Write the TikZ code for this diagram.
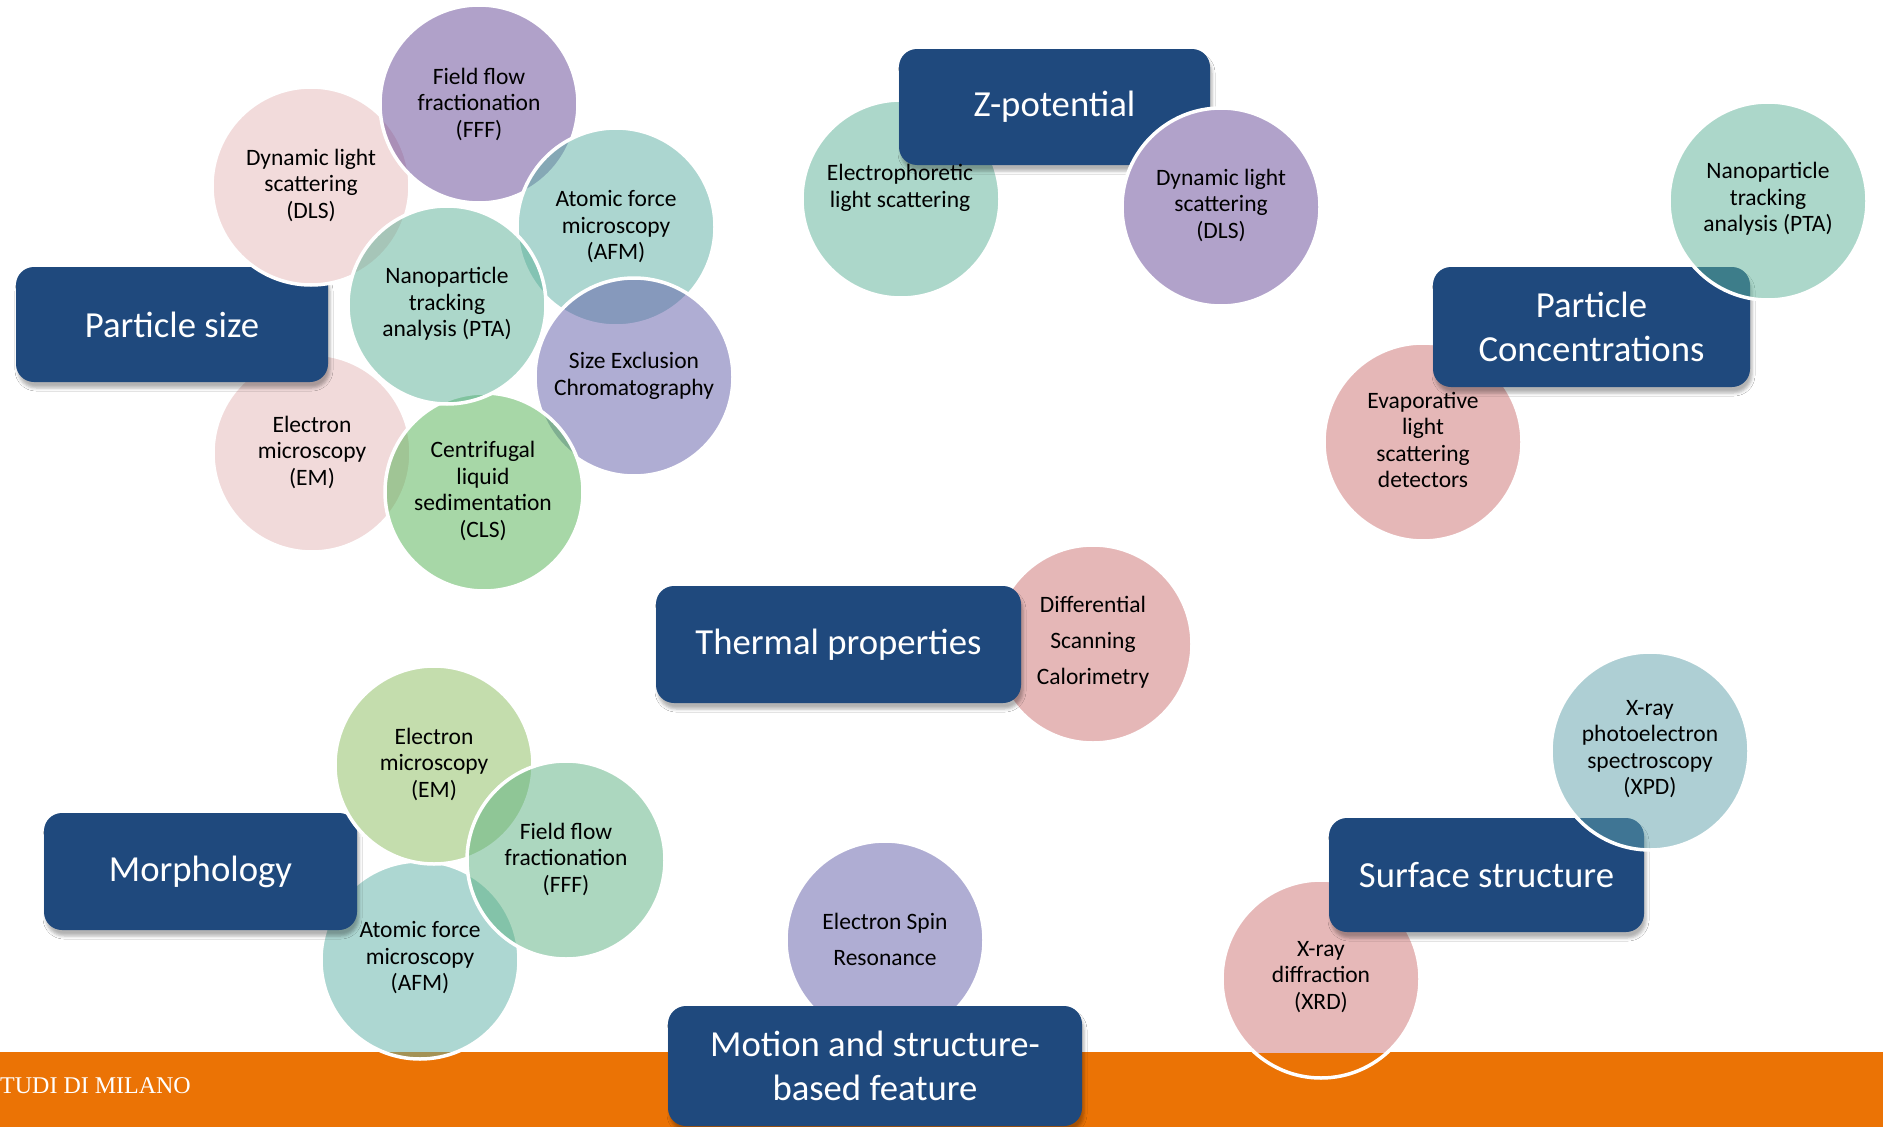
\documentclass[tikz,border=0pt]{standalone}
\usepackage{fontspec}
\setmainfont{Carlito}
\newfontfamily\footserif{Liberation Serif}
\usetikzlibrary{shadows.blur}

% box and band colours
\definecolor{boxblue}{RGB}{31,73,125}
\definecolor{barorange}{RGB}{235,115,5}
% circle tones that are laid down at 50 % opacity
\definecolor{purpleT}{RGB}{99,69,149}
\definecolor{tealT}{RGB}{91,177,151}
\definecolor{aquaT}{RGB}{91,175,163}
\definecolor{lavT}{RGB}{97,93,169}
\definecolor{greenT}{RGB}{81,177,81}
\definecolor{roseT}{RGB}{229,183,183}
\definecolor{pinkT}{RGB}{205,113,113}
\definecolor{steelT}{RGB}{95,161,171}
\definecolor{mintT}{RGB}{91,177,129}
\definecolor{aquaTT}{RGB}{93,177,167}
% circle tones that are painted solid
\definecolor{roseS}{RGB}{242,219,219}
\definecolor{purpleS}{RGB}{177,162,202}
\definecolor{limeS}{RGB}{196,221,173}
\definecolor{pinkS}{RGB}{230,184,184}

\newcommand\techfont{\fontsize{23.5}{26.5}\selectfont}
\newcommand\techfontwide{\fontsize{23.5}{36}\selectfont}
\newcommand\catfont{\fontsize{36.7}{44.5}\selectfont}

\tikzset{
  techdisc/.style={circle, minimum size=198pt, inner sep=0pt, draw=white, line width=3.5pt},
  seethru/.style={techdisc, fill=#1, fill opacity=0.5, draw opacity=1},
  fulldisc/.style={techdisc, fill=#1},
  catbox/.style={rectangle, rounded corners=18pt, fill=boxblue, text=white,
    font=\catfont, align=center, inner sep=0pt,
    blur shadow={shadow xshift=2pt, shadow yshift=-6pt, shadow blur radius=3pt, shadow opacity=30}},
  techlabel/.style={align=center, font=\techfont, text=black, inner sep=0pt},
  techlabelwide/.style={techlabel, font=\techfontwide},
}

\begin{document}
\begin{tikzpicture}[x=1pt, y=-1pt]
\useasboundingbox (0,0) rectangle (1883,1127);
\fill[white] (0,0) rectangle (1883,1127);

% footer band
\fill[barorange] (0,1052) rectangle (1883,1127);
\node[anchor=base west, text=white, font=\footserif\fontsize{24}{24}\selectfont, inner sep=0pt]
  (footer) at (0,1093) {TUDI DI MILANO};

% ---------- Particle size ----------
\node[seethru=roseT] (c-ps-em) at (312,453) {};
\node[catbox, minimum width=312pt, minimum height=115pt] (b-ps) at (172,324.5) {Particle size};
\node[fulldisc=roseS] (c-ps-dls) at (311,186) {};
\node[seethru=purpleT] (c-ps-fff) at (479,104) {};
\node[seethru=aquaT] (c-ps-afm) at (616,227) {};
\node[seethru=lavT] (c-ps-sec) at (634,377) {};
\node[seethru=greenT] (c-ps-cls) at (484,492) {};
\node[seethru=tealT] (c-ps-pta) at (447,305) {};
\node[techlabel] (t-ps-dls) at (311,185) {Dynamic light\\scattering\\(DLS)};
\node[techlabel] (t-ps-fff) at (479,104) {Field flow\\fractionation\\(FFF)};
\node[techlabel] (t-ps-afm) at (616,227) {Atomic force\\microscopy\\(AFM)};
\node[techlabel] (t-ps-pta) at (447,304) {Nanoparticle\\tracking\\analysis (PTA)};
\node[techlabel] (t-ps-sec) at (634,376) {Size Exclusion\\Chromatography};
\node[techlabel] (t-ps-em) at (312,452) {Electron\\microscopy\\(EM)};
\node[techlabel] (t-ps-cls) at (483,491) {Centrifugal\\liquid\\sedimentation\\(CLS)};

% ---------- Z-potential ----------
\node[seethru=tealT] (c-z-ep) at (901,199) {};
\node[catbox, minimum width=311pt, minimum height=116pt] (b-z) at (1054.5,107) {Z-potential};
\node[fulldisc=purpleS] (c-z-dls) at (1221,207) {};
\node[techlabel] (t-z-ep) at (900,188) {Electrophoretic\\light scattering};
\node[techlabel] (t-z-dls) at (1221,205) {Dynamic light\\scattering\\(DLS)};

% ---------- Particle Concentrations ----------
\node[seethru=pinkT] (c-pc-els) at (1423,442) {};
\node[catbox, minimum width=317pt, minimum height=120pt] (b-pc) at (1591.5,327) {Particle\\Concentrations};
\node[seethru=tealT] (c-pc-pta) at (1768,201) {};
\node[techlabel] (t-pc-pta) at (1768,199) {Nanoparticle\\tracking\\analysis (PTA)};
\node[techlabel] (t-pc-els) at (1423,440) {Evaporative\\light\\scattering\\detectors};

% ---------- Thermal properties ----------
\node[seethru=pinkT] (c-tp-dsc) at (1093,644) {};
\node[catbox, minimum width=365pt, minimum height=117pt] (b-tp) at (838.5,644.5) {Thermal properties};
\node[techlabelwide] (t-tp-dsc) at (1093,642) {Differential\\Scanning\\Calorimetry};

% ---------- Morphology ----------
\node[seethru=aquaTT] (c-mo-afm) at (420,960) {};
\node[catbox, minimum width=313pt, minimum height=117pt] (b-mo) at (200.5,871.5) {Morphology};
\node[fulldisc=limeS] (c-mo-em) at (434,765) {};
\node[seethru=mintT] (c-mo-fff) at (566,860) {};
\node[techlabel] (t-mo-em) at (434,764) {Electron\\microscopy\\(EM)};
\node[techlabel] (t-mo-fff) at (566,859) {Field flow\\fractionation\\(FFF)};
\node[techlabel] (t-mo-afm) at (420,958) {Atomic force\\microscopy\\(AFM)};

% ---------- Motion and structure-based feature ----------
\node[seethru=lavT] (c-ms-esr) at (885,940) {};
\node[catbox, minimum width=414pt, minimum height=120pt] (b-ms) at (875,1066) {Motion and structure-\\based feature};
\node[techlabelwide] (t-ms-esr) at (885,939) {Electron Spin\\Resonance};

% ---------- Surface structure ----------
\begin{scope}
  \clip (0,0) rectangle (1883,1052);
  \node[techdisc, fill=pinkS, draw=none] (c-ss-xrd) at (1321,979) {};
\end{scope}
\draw[white, line width=3.5pt] (c-ss-xrd.center) circle[radius=99pt];
\node[catbox, minimum width=315pt, minimum height=114pt] (b-ss) at (1486.5,875) {Surface structure};
\node[seethru=steelT] (c-ss-xpd) at (1650,751) {};
\node[techlabel] (t-ss-xpd) at (1650,749) {X-ray\\photoelectron\\spectroscopy\\(XPD)};
\node[techlabel] (t-ss-xrd) at (1321,977) {X-ray\\diffraction\\(XRD)};
\end{tikzpicture}
\end{document}
